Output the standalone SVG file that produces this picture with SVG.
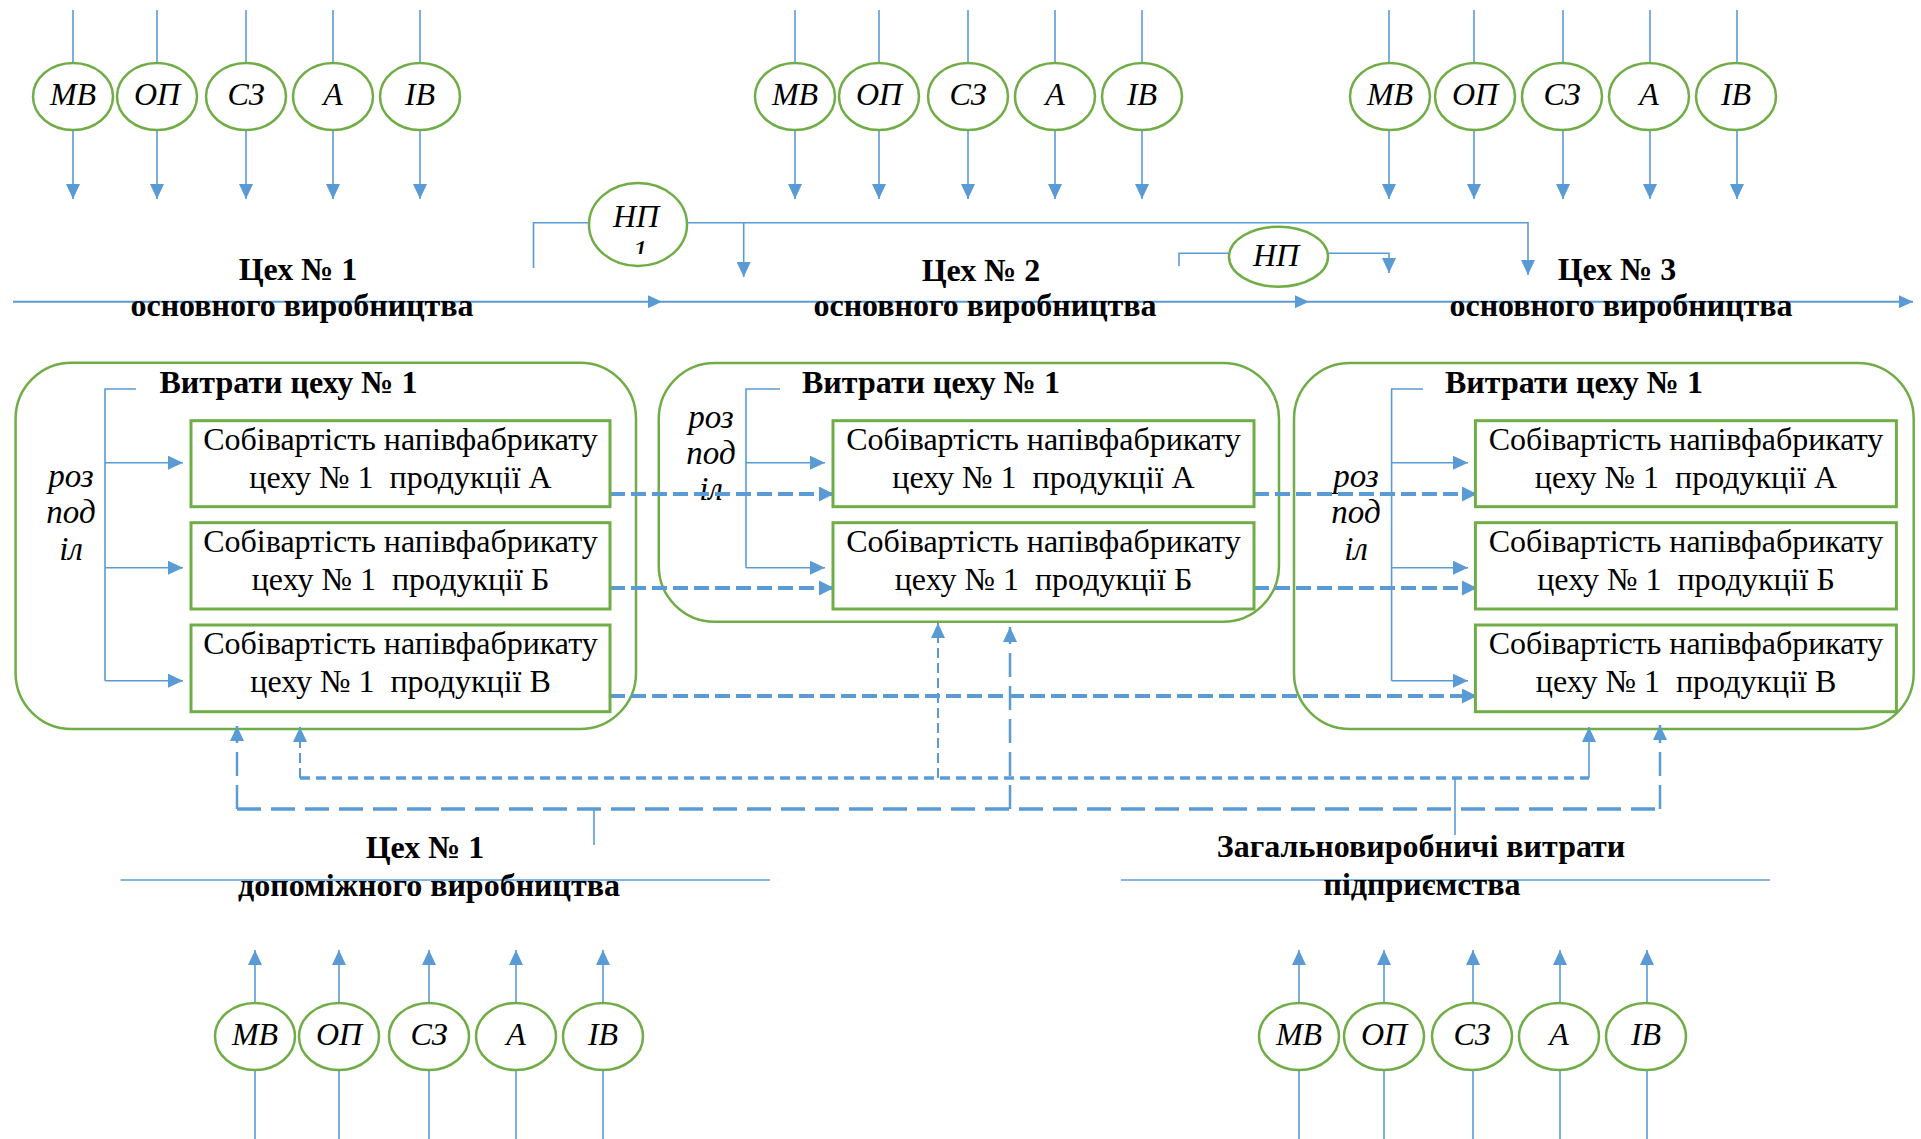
<svg xmlns="http://www.w3.org/2000/svg" width="1921" height="1139" viewBox="0 0 1921 1139">
<style>
text{font-family:"Liberation Serif","Times New Roman",serif;fill:#000;text-anchor:middle}
.lbl{font-style:italic;font-size:32px}
.hd{font-weight:bold;font-size:32px}
.bx{font-size:32px;white-space:pre}
.it{font-style:italic;font-size:33px}
.grp{fill:none;stroke:#70AD47;stroke-width:2.5}
.box{fill:#fff;stroke:#70AD47;stroke-width:3}
.ell{fill:#fff;stroke:#70AD47;stroke-width:2.5}
.ln{fill:none;stroke:#5B9BD5;stroke-width:1.6}
.main{fill:none;stroke:#5B9BD5;stroke-width:2}
.thick{fill:none;stroke:#5B9BD5;stroke-width:4;stroke-dasharray:15 6}
.long{fill:none;stroke:#5B9BD5;stroke-width:3.5;stroke-dasharray:24 10}
.longv{fill:none;stroke:#5B9BD5;stroke-width:2.5;stroke-dasharray:24 9}
.dot{fill:none;stroke:#5B9BD5;stroke-width:3.5;stroke-dasharray:10 6}
.med{fill:none;stroke:#5B9BD5;stroke-width:2;stroke-dasharray:10 5}
</style>
<defs>
<marker id="ah" viewBox="0 0 15 14" refX="15" refY="7" markerWidth="15" markerHeight="14" markerUnits="userSpaceOnUse" orient="auto"><path d="M0,0 L15,7 L0,14 z" fill="#5B9BD5"/></marker>
<marker id="am" viewBox="0 0 14 13" refX="14" refY="6.5" markerWidth="14" markerHeight="13" markerUnits="userSpaceOnUse" orient="auto"><path d="M0,0 L14,6.5 L0,13 z" fill="#5B9BD5"/></marker>
<marker id="at" viewBox="0 0 15 15" refX="15" refY="7.5" markerWidth="15" markerHeight="15" markerUnits="userSpaceOnUse" orient="auto"><path d="M0,0 L15,7.5 L0,15 z" fill="#5B9BD5"/></marker>
<clipPath id="npclip"><rect x="600" y="230" width="80" height="24"/></clipPath>
</defs>

<g id="group-ceh1-costs">
<rect class="grp" x="15.6" y="362.7" width="620.4" height="366.3" rx="56"/>
<text class="hd" x="288.5" y="393">Витрати цеху № 1</text>
<text class="it" x="71" y="487">роз</text>
<text class="it" x="71" y="523">под</text>
<text class="it" x="71" y="560">іл</text>
</g>
<g id="group-ceh2-costs">
<rect class="grp" x="658.75" y="363" width="620.25" height="258.7" rx="56"/>
<text class="hd" x="931" y="393">Витрати цеху № 1</text>
<text class="it" x="711" y="428">роз</text>
<text class="it" x="711" y="464">под</text>
<text class="it" x="711" y="500">іл</text>
</g>
<g id="group-ceh3-costs">
<rect class="grp" x="1294" y="363" width="619.7" height="366" rx="56"/>
<text class="hd" x="1574" y="393">Витрати цеху № 1</text>
<text class="it" x="1356" y="487">роз</text>
<text class="it" x="1356" y="523">под</text>
<text class="it" x="1356" y="560">іл</text>
</g>

<g id="connectors">
<path class="ln" d="M73 10V199" marker-end="url(#ah)"/>
<path class="ln" d="M157 10V199" marker-end="url(#ah)"/>
<path class="ln" d="M246 10V199" marker-end="url(#ah)"/>
<path class="ln" d="M333 10V199" marker-end="url(#ah)"/>
<path class="ln" d="M420 10V199" marker-end="url(#ah)"/>
<path class="ln" d="M795 10V199" marker-end="url(#ah)"/>
<path class="ln" d="M879 10V199" marker-end="url(#ah)"/>
<path class="ln" d="M968 10V199" marker-end="url(#ah)"/>
<path class="ln" d="M1055 10V199" marker-end="url(#ah)"/>
<path class="ln" d="M1142 10V199" marker-end="url(#ah)"/>
<path class="ln" d="M1389 10V199" marker-end="url(#ah)"/>
<path class="ln" d="M1474 10V199" marker-end="url(#ah)"/>
<path class="ln" d="M1563 10V199" marker-end="url(#ah)"/>
<path class="ln" d="M1650 10V199" marker-end="url(#ah)"/>
<path class="ln" d="M1737 10V199" marker-end="url(#ah)"/>
<path class="main" d="M13 301.7H662H1309H1913" marker-mid="url(#am)" marker-end="url(#am)"/>
<path class="ln" d="M533.5 268V222.7H589"/>
<path class="ln" d="M687 222.7H1528V275" marker-end="url(#ah)"/>
<path class="ln" d="M743.7 222.7V277" marker-end="url(#ah)"/>
<path class="ln" d="M1179 266V253.3H1229"/>
<path class="ln" d="M1328 253.3H1389V273" marker-end="url(#ah)"/>
<path class="ln" d="M136 389H105V680.7"/>
<path class="ln" d="M105 462.7H183" marker-end="url(#ah)"/>
<path class="ln" d="M105 567.7H183" marker-end="url(#ah)"/>
<path class="ln" d="M105 680.7H183" marker-end="url(#ah)"/>
<path class="ln" d="M780 389H746V567.7"/>
<path class="ln" d="M746 462.7H825" marker-end="url(#ah)"/>
<path class="ln" d="M746 567.7H825" marker-end="url(#ah)"/>
<path class="ln" d="M1423 389H1391.6V680.7"/>
<path class="ln" d="M1391.6 462.7H1468" marker-end="url(#ah)"/>
<path class="ln" d="M1391.6 567.7H1468" marker-end="url(#ah)"/>
<path class="ln" d="M1391.6 680.7H1468" marker-end="url(#ah)"/>
<path class="thick" d="M610 494H834" marker-end="url(#at)"/>
<path class="thick" d="M610 588H834" marker-end="url(#at)"/>
<path class="thick" d="M1254 494H1477" marker-end="url(#at)"/>
<path class="thick" d="M1254 588H1477" marker-end="url(#at)"/>
<path class="thick" d="M610 696H1477" marker-end="url(#at)"/>
<path class="long" d="M237 809H1660"/>
<path class="longv" d="M237 809V726" marker-end="url(#ah)"/>
<path class="longv" d="M1010 809V627" marker-end="url(#ah)"/>
<path class="longv" d="M1660 809V725" marker-end="url(#ah)"/>
<path class="ln" d="M594 809V845"/>
<path class="dot" d="M300 778H1589"/>
<path class="med" d="M300 778V727" marker-end="url(#ah)"/>
<path class="med" d="M938 778V623" marker-end="url(#ah)"/>
<path class="ln" d="M1589 778V727" marker-end="url(#ah)"/>
<path class="ln" d="M1455 778V835"/>
<path class="ln" d="M255 1139V950" marker-end="url(#ah)"/>
<path class="ln" d="M339 1139V950" marker-end="url(#ah)"/>
<path class="ln" d="M429 1139V950" marker-end="url(#ah)"/>
<path class="ln" d="M516 1139V950" marker-end="url(#ah)"/>
<path class="ln" d="M603 1139V950" marker-end="url(#ah)"/>
<path class="ln" d="M1299 1139V950" marker-end="url(#ah)"/>
<path class="ln" d="M1384 1139V950" marker-end="url(#ah)"/>
<path class="ln" d="M1473 1139V950" marker-end="url(#ah)"/>
<path class="ln" d="M1560 1139V950" marker-end="url(#ah)"/>
<path class="ln" d="M1647 1139V950" marker-end="url(#ah)"/>
<path class="ln" d="M120.6 880H770"/>
<path class="ln" d="M1121 880H1770"/>
</g>

<g id="shop1"><text class="hd" x="298" y="280">Цех № 1</text><text class="hd" x="302" y="316">основного виробництва</text></g>
<g id="shop2"><text class="hd" x="981" y="281">Цех № 2</text><text class="hd" x="985" y="316">основного виробництва</text></g>
<g id="shop3"><text class="hd" x="1617" y="280">Цех № 3</text><text class="hd" x="1621" y="316">основного виробництва</text></g>
<g id="aux-shop"><text class="hd" x="425" y="858">Цех № 1</text><text class="hd" x="429" y="896">допоміжного виробництва</text></g>
<g id="general-costs"><text class="hd" x="1421" y="857">Загальновиробничі витрати</text><text class="hd" x="1422" y="895">підприємства</text></g>

<g id="box-1A"><rect class="box" x="191" y="420.7" width="419" height="86"/><text class="bx" x="400.5" y="450">Собівартість напівфабрикату</text><text class="bx" x="400.5" y="488">цеху № 1  продукції А</text></g>
<g id="box-1B"><rect class="box" x="191" y="522.7" width="419" height="86.3"/><text class="bx" x="400.5" y="552">Собівартість напівфабрикату</text><text class="bx" x="400.5" y="590">цеху № 1  продукції Б</text></g>
<g id="box-1C"><rect class="box" x="191" y="625" width="419" height="86.7"/><text class="bx" x="400.5" y="654">Собівартість напівфабрикату</text><text class="bx" x="400.5" y="692">цеху № 1  продукції В</text></g>
<g id="box-2A"><rect class="box" x="833" y="420.7" width="421" height="86"/><text class="bx" x="1043.5" y="450">Собівартість напівфабрикату</text><text class="bx" x="1043.5" y="488">цеху № 1  продукції А</text></g>
<g id="box-2B"><rect class="box" x="833" y="522.7" width="421" height="86.3"/><text class="bx" x="1043.5" y="552">Собівартість напівфабрикату</text><text class="bx" x="1043.5" y="590">цеху № 1  продукції Б</text></g>
<g id="box-3A"><rect class="box" x="1475.4" y="420.7" width="421" height="86"/><text class="bx" x="1686" y="450">Собівартість напівфабрикату</text><text class="bx" x="1686" y="488">цеху № 1  продукції А</text></g>
<g id="box-3B"><rect class="box" x="1475.4" y="522.7" width="421" height="86.3"/><text class="bx" x="1686" y="552">Собівартість напівфабрикату</text><text class="bx" x="1686" y="590">цеху № 1  продукції Б</text></g>
<g id="box-3C"><rect class="box" x="1475.4" y="625" width="421" height="86.7"/><text class="bx" x="1686" y="654">Собівартість напівфабрикату</text><text class="bx" x="1686" y="692">цеху № 1  продукції В</text></g>

<g id="np1"><ellipse class="ell" cx="638" cy="224.5" rx="49" ry="41.5"/><text class="lbl" x="636" y="227">НП</text><text class="lbl" x="640" y="262" clip-path="url(#npclip)">1</text></g>
<g id="np2"><ellipse class="ell" cx="1278.5" cy="256.7" rx="49.5" ry="30"/><text class="lbl" x="1276" y="266">НП</text></g>

<g id="s1-mv"><ellipse class="ell" cx="73" cy="96.5" rx="40" ry="33.5"/><text class="lbl" x="73" y="105">МВ</text></g>
<g id="s1-op"><ellipse class="ell" cx="157" cy="96.5" rx="40" ry="33.5"/><text class="lbl" x="157" y="105">ОП</text></g>
<g id="s1-sz"><ellipse class="ell" cx="246" cy="96.5" rx="40" ry="33.5"/><text class="lbl" x="246" y="105">СЗ</text></g>
<g id="s1-a"><ellipse class="ell" cx="333" cy="96.5" rx="40" ry="33.5"/><text class="lbl" x="333" y="105">А</text></g>
<g id="s1-iv"><ellipse class="ell" cx="420" cy="96.5" rx="40" ry="33.5"/><text class="lbl" x="420" y="105">ІВ</text></g>
<g id="s2-mv"><ellipse class="ell" cx="795" cy="96.5" rx="40" ry="33.5"/><text class="lbl" x="795" y="105">МВ</text></g>
<g id="s2-op"><ellipse class="ell" cx="879" cy="96.5" rx="40" ry="33.5"/><text class="lbl" x="879" y="105">ОП</text></g>
<g id="s2-sz"><ellipse class="ell" cx="968" cy="96.5" rx="40" ry="33.5"/><text class="lbl" x="968" y="105">СЗ</text></g>
<g id="s2-a"><ellipse class="ell" cx="1055" cy="96.5" rx="40" ry="33.5"/><text class="lbl" x="1055" y="105">А</text></g>
<g id="s2-iv"><ellipse class="ell" cx="1142" cy="96.5" rx="40" ry="33.5"/><text class="lbl" x="1142" y="105">ІВ</text></g>
<g id="s3-mv"><ellipse class="ell" cx="1390" cy="96.5" rx="40" ry="33.5"/><text class="lbl" x="1390" y="105">МВ</text></g>
<g id="s3-op"><ellipse class="ell" cx="1475" cy="96.5" rx="40" ry="33.5"/><text class="lbl" x="1475" y="105">ОП</text></g>
<g id="s3-sz"><ellipse class="ell" cx="1562" cy="96.5" rx="40" ry="33.5"/><text class="lbl" x="1562" y="105">СЗ</text></g>
<g id="s3-a"><ellipse class="ell" cx="1649" cy="96.5" rx="40" ry="33.5"/><text class="lbl" x="1649" y="105">А</text></g>
<g id="s3-iv"><ellipse class="ell" cx="1736" cy="96.5" rx="40" ry="33.5"/><text class="lbl" x="1736" y="105">ІВ</text></g>
<g id="aux-mv"><ellipse class="ell" cx="255" cy="1036.5" rx="40" ry="33.5"/><text class="lbl" x="255" y="1045">МВ</text></g>
<g id="aux-op"><ellipse class="ell" cx="339" cy="1036.5" rx="40" ry="33.5"/><text class="lbl" x="339" y="1045">ОП</text></g>
<g id="aux-sz"><ellipse class="ell" cx="429" cy="1036.5" rx="40" ry="33.5"/><text class="lbl" x="429" y="1045">СЗ</text></g>
<g id="aux-a"><ellipse class="ell" cx="516" cy="1036.5" rx="40" ry="33.5"/><text class="lbl" x="516" y="1045">А</text></g>
<g id="aux-iv"><ellipse class="ell" cx="603" cy="1036.5" rx="40" ry="33.5"/><text class="lbl" x="603" y="1045">ІВ</text></g>
<g id="gen-mv"><ellipse class="ell" cx="1299" cy="1036.5" rx="40" ry="33.5"/><text class="lbl" x="1299" y="1045">МВ</text></g>
<g id="gen-op"><ellipse class="ell" cx="1384" cy="1036.5" rx="40" ry="33.5"/><text class="lbl" x="1384" y="1045">ОП</text></g>
<g id="gen-sz"><ellipse class="ell" cx="1472" cy="1036.5" rx="40" ry="33.5"/><text class="lbl" x="1472" y="1045">СЗ</text></g>
<g id="gen-a"><ellipse class="ell" cx="1559" cy="1036.5" rx="40" ry="33.5"/><text class="lbl" x="1559" y="1045">А</text></g>
<g id="gen-iv"><ellipse class="ell" cx="1646" cy="1036.5" rx="40" ry="33.5"/><text class="lbl" x="1646" y="1045">ІВ</text></g>
</svg>
